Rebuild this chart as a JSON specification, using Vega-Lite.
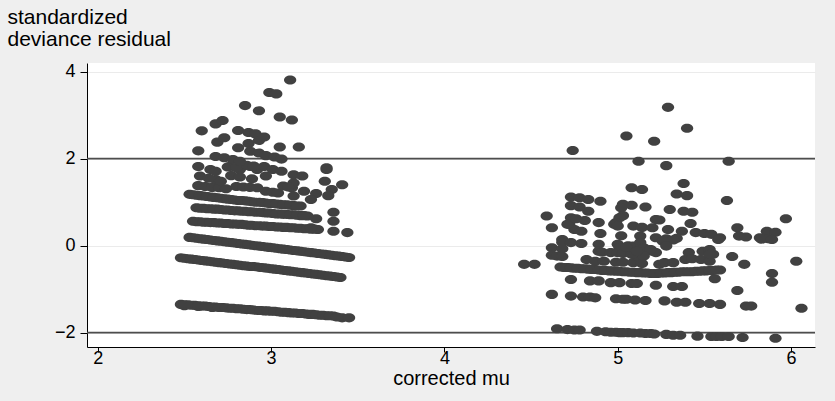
{
  "$schema": "https://vega.github.io/schema/vega-lite/v6.json",
  "width": 728,
  "height": 284,
  "autosize": {"type": "none"},
  "padding": {"left": 87, "top": 63, "right": 20, "bottom": 54},
  "background": "#EFEFEF",
  "config": {"view": {"fill": "white", "stroke": null}, "font": "Liberation Sans"},
  "datasets": {
    "refs": [{"y": 2}, {"y": -2}],
    "pts": [
      {"x":2.48,"y":-1.35},{"x":2.52,"y":-1.36},{"x":2.56,"y":-1.37},{"x":2.60,"y":-1.39},{"x":2.64,"y":-1.40},{"x":2.68,"y":-1.41},{"x":2.72,"y":-1.42},{"x":2.76,"y":-1.44},{"x":2.80,"y":-1.45},{"x":2.84,"y":-1.46},{"x":2.88,"y":-1.47},{"x":2.92,"y":-1.49},{"x":2.96,"y":-1.50},{"x":3.00,"y":-1.51},{"x":3.04,"y":-1.52},{"x":3.08,"y":-1.53},{"x":3.12,"y":-1.55},{"x":3.16,"y":-1.56},{"x":3.20,"y":-1.57},{"x":3.24,"y":-1.58},{"x":3.28,"y":-1.60},{"x":3.32,"y":-1.61},{"x":3.36,"y":-1.62},{"x":3.41,"y":-1.66},{"x":3.45,"y":-1.66},{"x":2.50,"y":-1.38},{"x":2.58,"y":-1.40},{"x":2.66,"y":-1.42},
      {"x":2.50,"y":-1.36},{"x":2.54,"y":-1.37},{"x":2.58,"y":-1.38},{"x":2.62,"y":-1.39},{"x":2.66,"y":-1.41},{"x":2.70,"y":-1.42},{"x":2.74,"y":-1.43},{"x":2.78,"y":-1.44},{"x":2.82,"y":-1.45},{"x":2.86,"y":-1.47},{"x":2.90,"y":-1.48},{"x":2.94,"y":-1.49},{"x":2.98,"y":-1.50},{"x":3.02,"y":-1.51},{"x":3.06,"y":-1.53},{"x":3.10,"y":-1.54},{"x":3.14,"y":-1.55},{"x":3.18,"y":-1.56},{"x":3.22,"y":-1.58},{"x":3.26,"y":-1.59},{"x":3.30,"y":-1.60},{"x":3.34,"y":-1.61},{"x":3.38,"y":-1.64},
      {"x":2.48,"y":-0.28},{"x":2.52,"y":-0.30},{"x":2.56,"y":-0.32},{"x":2.60,"y":-0.34},{"x":2.64,"y":-0.36},{"x":2.68,"y":-0.38},{"x":2.72,"y":-0.40},{"x":2.76,"y":-0.42},{"x":2.80,"y":-0.44},{"x":2.84,"y":-0.46},{"x":2.88,"y":-0.48},{"x":2.92,"y":-0.49},{"x":2.96,"y":-0.51},{"x":3.00,"y":-0.53},{"x":3.04,"y":-0.55},{"x":3.08,"y":-0.57},{"x":3.12,"y":-0.59},{"x":3.16,"y":-0.61},{"x":3.20,"y":-0.63},{"x":3.24,"y":-0.65},{"x":3.28,"y":-0.67},{"x":3.32,"y":-0.69},{"x":3.36,"y":-0.71},{"x":3.40,"y":-0.73},
      {"x":2.50,"y":-0.29},{"x":2.54,"y":-0.31},{"x":2.58,"y":-0.33},{"x":2.62,"y":-0.35},{"x":2.66,"y":-0.37},{"x":2.70,"y":-0.39},{"x":2.74,"y":-0.41},{"x":2.78,"y":-0.43},{"x":2.82,"y":-0.45},{"x":2.86,"y":-0.47},{"x":2.90,"y":-0.48},{"x":2.94,"y":-0.50},{"x":2.98,"y":-0.52},{"x":3.02,"y":-0.54},{"x":3.06,"y":-0.56},{"x":3.10,"y":-0.58},{"x":3.14,"y":-0.60},{"x":3.18,"y":-0.62},{"x":3.22,"y":-0.64},{"x":3.26,"y":-0.66},{"x":3.30,"y":-0.68},{"x":3.34,"y":-0.70},{"x":3.38,"y":-0.72},
      {"x":2.53,"y":0.19},{"x":2.57,"y":0.17},{"x":2.61,"y":0.15},{"x":2.65,"y":0.13},{"x":2.69,"y":0.11},{"x":2.73,"y":0.09},{"x":2.77,"y":0.07},{"x":2.81,"y":0.05},{"x":2.85,"y":0.03},{"x":2.89,"y":0.01},{"x":2.93,"y":-0.01},{"x":2.97,"y":-0.03},{"x":3.01,"y":-0.05},{"x":3.05,"y":-0.07},{"x":3.09,"y":-0.09},{"x":3.13,"y":-0.11},{"x":3.17,"y":-0.13},{"x":3.21,"y":-0.15},{"x":3.25,"y":-0.17},{"x":3.29,"y":-0.19},{"x":3.33,"y":-0.21},{"x":3.37,"y":-0.23},{"x":3.41,"y":-0.25},{"x":3.45,"y":-0.27},
      {"x":2.55,"y":0.18},{"x":2.59,"y":0.16},{"x":2.63,"y":0.14},{"x":2.67,"y":0.12},{"x":2.71,"y":0.10},{"x":2.75,"y":0.08},{"x":2.79,"y":0.06},{"x":2.83,"y":0.04},{"x":2.87,"y":0.02},{"x":2.91,"y":0.00},{"x":2.95,"y":-0.02},{"x":2.99,"y":-0.04},{"x":3.03,"y":-0.06},{"x":3.07,"y":-0.08},{"x":3.11,"y":-0.10},{"x":3.15,"y":-0.12},{"x":3.19,"y":-0.14},{"x":3.23,"y":-0.16},{"x":3.27,"y":-0.18},{"x":3.31,"y":-0.20},{"x":3.35,"y":-0.22},{"x":3.39,"y":-0.24},{"x":3.43,"y":-0.26},
      {"x":2.55,"y":0.56},{"x":2.59,"y":0.55},{"x":2.63,"y":0.54},{"x":2.67,"y":0.53},{"x":2.71,"y":0.52},{"x":2.75,"y":0.51},{"x":2.79,"y":0.50},{"x":2.83,"y":0.49},{"x":2.87,"y":0.47},{"x":2.91,"y":0.46},{"x":2.95,"y":0.45},{"x":2.99,"y":0.44},{"x":3.03,"y":0.43},{"x":3.07,"y":0.42},{"x":3.11,"y":0.41},{"x":3.15,"y":0.40},{"x":3.19,"y":0.39},{"x":3.23,"y":0.38},{"x":3.27,"y":0.37},
      {"x":2.57,"y":0.55},{"x":2.61,"y":0.54},{"x":2.65,"y":0.53},{"x":2.69,"y":0.52},{"x":2.73,"y":0.51},{"x":2.77,"y":0.50},{"x":2.81,"y":0.49},{"x":2.85,"y":0.48},{"x":2.89,"y":0.47},{"x":2.93,"y":0.46},{"x":2.97,"y":0.45},{"x":3.01,"y":0.44},{"x":3.05,"y":0.43},{"x":3.09,"y":0.42},{"x":3.13,"y":0.41},{"x":3.17,"y":0.40},{"x":3.21,"y":0.39},{"x":3.25,"y":0.38},
      {"x":3.36,"y":0.56},{"x":3.36,"y":0.33},{"x":3.44,"y":0.30},{"x":3.26,"y":0.62},{"x":3.36,"y":0.77},{"x":3.23,"y":0.41},
      {"x":2.57,"y":0.87},{"x":2.61,"y":0.86},{"x":2.65,"y":0.85},{"x":2.69,"y":0.84},{"x":2.73,"y":0.82},{"x":2.77,"y":0.81},{"x":2.81,"y":0.80},{"x":2.85,"y":0.79},{"x":2.89,"y":0.78},{"x":2.93,"y":0.77},{"x":2.97,"y":0.75},{"x":3.01,"y":0.74},{"x":3.05,"y":0.73},{"x":3.09,"y":0.72},{"x":3.13,"y":0.71},{"x":3.17,"y":0.69},{"x":3.21,"y":0.68},
      {"x":2.59,"y":0.86},{"x":2.63,"y":0.85},{"x":2.67,"y":0.84},{"x":2.71,"y":0.83},{"x":2.75,"y":0.82},{"x":2.79,"y":0.80},{"x":2.83,"y":0.79},{"x":2.87,"y":0.78},{"x":2.91,"y":0.77},{"x":2.95,"y":0.76},{"x":2.99,"y":0.75},{"x":3.03,"y":0.73},{"x":3.07,"y":0.72},{"x":3.11,"y":0.71},{"x":3.15,"y":0.70},{"x":3.19,"y":0.69},
      {"x":2.53,"y":1.18},{"x":2.57,"y":1.16},{"x":2.61,"y":1.14},{"x":2.65,"y":1.12},{"x":2.69,"y":1.10},{"x":2.73,"y":1.08},{"x":2.77,"y":1.06},{"x":2.81,"y":1.04},{"x":2.85,"y":1.03},{"x":2.89,"y":1.01},{"x":2.93,"y":1.00},{"x":2.97,"y":0.98},{"x":3.01,"y":0.97},{"x":3.05,"y":0.95},{"x":3.09,"y":0.94},{"x":3.13,"y":0.92},{"x":3.17,"y":0.91},
      {"x":2.55,"y":1.17},{"x":2.59,"y":1.15},{"x":2.63,"y":1.13},{"x":2.67,"y":1.11},{"x":2.71,"y":1.09},{"x":2.75,"y":1.07},{"x":2.79,"y":1.05},{"x":2.83,"y":1.04},{"x":2.87,"y":1.02},{"x":2.91,"y":1.00},{"x":2.95,"y":0.99},{"x":2.99,"y":0.97},{"x":3.03,"y":0.96},{"x":3.07,"y":0.94},{"x":3.11,"y":0.93},{"x":3.15,"y":0.91},
      {"x":2.58,"y":1.38},{"x":2.62,"y":1.36},{"x":2.66,"y":1.34},{"x":2.70,"y":1.33},{"x":2.74,"y":1.31},{"x":2.80,"y":1.36},{"x":2.84,"y":1.35},{"x":2.88,"y":1.34},{"x":2.92,"y":1.33},{"x":2.97,"y":1.25},{"x":3.01,"y":1.23},{"x":3.04,"y":1.21},{"x":3.07,"y":1.37},{"x":3.12,"y":1.33},
      {"x":3.13,"y":1.44},{"x":3.10,"y":1.35},{"x":3.31,"y":1.48},{"x":3.41,"y":1.40},{"x":3.35,"y":1.29},{"x":3.19,"y":1.25},{"x":3.26,"y":1.20},{"x":3.33,"y":1.15},{"x":3.23,"y":1.06},{"x":3.13,"y":1.14},{"x":3.13,"y":1.63},{"x":3.18,"y":1.60},{"x":3.32,"y":1.75},
      {"x":2.59,"y":1.60},{"x":2.68,"y":1.52},{"x":2.71,"y":1.48},{"x":2.77,"y":1.61},{"x":2.82,"y":1.58},{"x":2.89,"y":1.54},{"x":2.97,"y":1.60},{"x":2.64,"y":1.55},
      {"x":2.58,"y":1.82},{"x":2.65,"y":1.75},{"x":2.68,"y":1.71},{"x":2.76,"y":1.82},{"x":2.82,"y":1.75},{"x":2.88,"y":1.82},{"x":2.92,"y":1.75},{"x":2.96,"y":1.82},{"x":3.01,"y":1.75},{"x":3.06,"y":1.71},{"x":2.75,"y":1.81},{"x":2.80,"y":1.79},{"x":2.86,"y":1.85},{"x":2.90,"y":1.83},
      {"x":3.11,"y":3.81},{"x":2.99,"y":3.52},{"x":3.03,"y":3.49},{"x":2.85,"y":3.22},{"x":2.93,"y":3.10},{"x":3.05,"y":2.96},{"x":3.12,"y":2.89},{"x":2.68,"y":2.80},{"x":2.72,"y":2.88},{"x":2.60,"y":2.64},{"x":2.81,"y":2.65},{"x":2.87,"y":2.60},{"x":2.91,"y":2.57},{"x":2.69,"y":2.38},{"x":2.73,"y":2.48},{"x":2.87,"y":2.35},{"x":2.93,"y":2.42},{"x":2.96,"y":2.50},{"x":2.81,"y":2.25},{"x":2.88,"y":2.17},{"x":3.05,"y":2.27},{"x":3.16,"y":2.27},{"x":2.58,"y":2.18},{"x":2.68,"y":2.05},{"x":2.73,"y":2.02},{"x":2.78,"y":1.98},{"x":2.82,"y":1.94},{"x":2.93,"y":2.13},{"x":2.97,"y":2.07},{"x":3.02,"y":2.04},{"x":3.06,"y":1.99},{"x":3.32,"y":1.79},
      {"x":5.29,"y":3.18},{"x":5.40,"y":2.70},{"x":5.05,"y":2.52},{"x":5.21,"y":2.40},{"x":4.74,"y":2.19},{"x":5.12,"y":1.94},{"x":5.28,"y":1.84},{"x":5.64,"y":1.94},{"x":5.38,"y":1.43},{"x":5.08,"y":1.33},{"x":5.14,"y":1.29},{"x":5.34,"y":1.19},{"x":5.40,"y":1.15},{"x":5.63,"y":1.04},
      {"x":4.73,"y":1.12},{"x":4.78,"y":1.10},{"x":4.83,"y":1.06},{"x":4.90,"y":1.02},{"x":5.03,"y":0.95},{"x":5.08,"y":0.93},{"x":4.73,"y":0.92},{"x":4.78,"y":0.89},{"x":4.83,"y":0.79},{"x":5.16,"y":0.89},{"x":5.30,"y":0.83},{"x":5.38,"y":0.79},{"x":5.43,"y":0.77},{"x":4.59,"y":0.68},{"x":5.02,"y":0.87},{"x":5.03,"y":0.69},{"x":5.01,"y":0.64},{"x":4.99,"y":0.53},{"x":4.73,"y":0.64},{"x":4.72,"y":0.49},{"x":4.75,"y":0.37},{"x":4.79,"y":0.33},{"x":4.81,"y":0.58},{"x":4.89,"y":0.53},{"x":5.24,"y":0.59},{"x":5.42,"y":0.51},{"x":4.62,"y":0.41},{"x":5.09,"y":0.45},{"x":5.14,"y":0.42},{"x":5.20,"y":0.41},{"x":5.29,"y":0.37},{"x":5.37,"y":0.33},{"x":5.45,"y":0.30},{"x":5.50,"y":0.28},{"x":5.54,"y":0.26},{"x":5.69,"y":0.41},{"x":5.86,"y":0.33},{"x":5.91,"y":0.31},{"x":5.97,"y":0.62},{"x":4.90,"y":0.28},{"x":5.02,"y":0.23},{"x":5.13,"y":0.22},{"x":5.22,"y":0.18},{"x":5.28,"y":0.16},{"x":5.34,"y":0.17},{"x":5.59,"y":0.18},{"x":5.70,"y":0.22},{"x":5.74,"y":0.20},{"x":5.82,"y":0.18},{"x":5.87,"y":0.16},{"x":4.68,"y":0.14},{"x":5.58,"y":0.14},{"x":5.83,"y":0.15},{"x":5.89,"y":0.14},{"x":4.98,"y":0.49},{"x":5.22,"y":0.60},{"x":4.71,"y":0.49},{"x":5.00,"y":0.45},{"x":4.76,"y":0.62},
      {"x":4.68,"y":0.08},{"x":4.73,"y":0.07},{"x":4.79,"y":0.05},{"x":4.89,"y":0.03},{"x":5.00,"y":0.03},{"x":5.06,"y":0.00},{"x":5.09,"y":-0.01},{"x":5.13,"y":0.07},{"x":5.26,"y":0.10},{"x":5.32,"y":0.13},{"x":4.62,"y":-0.05},{"x":4.68,"y":-0.07},{"x":4.89,"y":-0.13},{"x":4.91,"y":-0.15},{"x":4.96,"y":-0.16},{"x":5.01,"y":-0.05},{"x":5.05,"y":-0.07},{"x":5.09,"y":-0.16},{"x":5.14,"y":-0.24},{"x":5.20,"y":-0.13},{"x":5.22,"y":-0.16},{"x":5.28,"y":-0.01},{"x":5.13,"y":-0.07},{"x":5.15,"y":-0.05},{"x":5.19,"y":-0.09},{"x":5.49,"y":-0.13},{"x":5.53,"y":-0.09},{"x":5.55,"y":-0.20},{"x":5.41,"y":-0.16},{"x":5.66,"y":-0.25},{"x":5.73,"y":-0.43},{"x":6.03,"y":-0.36},{"x":4.62,"y":-0.22},{"x":4.65,"y":-0.24},{"x":4.68,"y":-0.25},{"x":4.82,"y":-0.32},{"x":4.87,"y":-0.36},{"x":4.92,"y":-0.36},{"x":4.99,"y":-0.38},{"x":5.03,"y":-0.38},{"x":5.09,"y":-0.39},{"x":5.11,"y":-0.24},{"x":5.15,"y":-0.24},{"x":5.14,"y":-0.41},{"x":5.24,"y":-0.43},{"x":5.27,"y":-0.39},{"x":5.32,"y":-0.39},{"x":5.39,"y":-0.32},{"x":5.43,"y":-0.30},{"x":5.48,"y":-0.32},{"x":5.53,"y":-0.36},{"x":5.53,"y":-0.20},{"x":4.46,"y":-0.43},{"x":4.52,"y":-0.43},{"x":5.00,"y":-0.16},{"x":5.03,"y":-0.18},{"x":5.08,"y":-0.20},{"x":5.05,"y":-0.03},{"x":5.11,"y":-0.13},
      {"x":4.67,"y":-0.49},{"x":4.71,"y":-0.50},{"x":4.75,"y":-0.52},{"x":4.79,"y":-0.53},{"x":4.83,"y":-0.54},{"x":4.87,"y":-0.55},{"x":4.91,"y":-0.57},{"x":4.95,"y":-0.58},{"x":4.99,"y":-0.59},{"x":5.03,"y":-0.60},{"x":5.07,"y":-0.61},{"x":5.11,"y":-0.62},{"x":5.15,"y":-0.63},{"x":5.19,"y":-0.64},{"x":5.23,"y":-0.64},{"x":5.27,"y":-0.63},{"x":5.31,"y":-0.62},{"x":5.35,"y":-0.61},{"x":5.39,"y":-0.60},{"x":5.43,"y":-0.60},{"x":5.47,"y":-0.59},{"x":5.51,"y":-0.58},{"x":5.55,"y":-0.57},{"x":5.59,"y":-0.56},
      {"x":4.69,"y":-0.50},{"x":4.73,"y":-0.51},{"x":4.77,"y":-0.52},{"x":4.81,"y":-0.53},{"x":4.85,"y":-0.55},{"x":4.89,"y":-0.56},{"x":4.93,"y":-0.57},{"x":4.97,"y":-0.58},{"x":5.01,"y":-0.59},{"x":5.05,"y":-0.60},{"x":5.09,"y":-0.61},{"x":5.13,"y":-0.62},{"x":5.17,"y":-0.63},{"x":5.21,"y":-0.64},{"x":5.25,"y":-0.63},{"x":5.29,"y":-0.62},{"x":5.33,"y":-0.61},{"x":5.37,"y":-0.60},{"x":5.41,"y":-0.60},{"x":5.45,"y":-0.59},{"x":5.49,"y":-0.58},{"x":5.53,"y":-0.57},{"x":5.57,"y":-0.56},
      {"x":4.73,"y":-0.78},{"x":4.84,"y":-0.81},{"x":4.89,"y":-0.81},{"x":4.96,"y":-0.85},{"x":5.01,"y":-0.85},{"x":5.08,"y":-0.87},{"x":5.22,"y":-0.91},{"x":5.32,"y":-0.94},{"x":5.37,"y":-0.94},{"x":5.89,"y":-0.64},{"x":5.89,"y":-0.84},{"x":5.69,"y":-1.03},{"x":5.56,"y":-0.76},{"x":5.11,"y":-0.87},
      {"x":4.62,"y":-1.12},{"x":4.73,"y":-1.16},{"x":4.80,"y":-1.18},{"x":4.84,"y":-1.18},{"x":4.87,"y":-1.20},{"x":4.99,"y":-1.22},{"x":5.03,"y":-1.23},{"x":5.05,"y":-1.23},{"x":5.10,"y":-1.25},{"x":5.16,"y":-1.26},{"x":5.27,"y":-1.27},{"x":5.34,"y":-1.30},{"x":5.39,"y":-1.30},{"x":5.47,"y":-1.33},{"x":5.53,"y":-1.33},{"x":5.59,"y":-1.35},{"x":5.74,"y":-1.39},{"x":5.77,"y":-1.39},{"x":6.06,"y":-1.44},
      {"x":4.65,"y":-1.91},{"x":4.71,"y":-1.93},{"x":4.75,"y":-1.94},{"x":4.78,"y":-1.94},{"x":4.88,"y":-1.97},{"x":4.93,"y":-1.98},{"x":4.96,"y":-1.99},{"x":4.99,"y":-1.99},{"x":5.01,"y":-2.00},{"x":5.03,"y":-2.00},{"x":5.06,"y":-2.00},{"x":5.09,"y":-2.01},{"x":5.13,"y":-2.01},{"x":5.16,"y":-2.02},{"x":5.19,"y":-2.02},{"x":5.21,"y":-2.03},{"x":5.28,"y":-2.04},{"x":5.32,"y":-2.06},{"x":5.36,"y":-2.06},{"x":5.46,"y":-2.08},{"x":5.54,"y":-2.09},{"x":5.57,"y":-2.09},{"x":5.60,"y":-2.09},{"x":5.64,"y":-2.09},{"x":5.72,"y":-2.11},{"x":5.91,"y":-2.13}
    ]
  },
  "layer": [
    {
      "data": {"name": "refs"},
      "mark": {"type": "rule", "color": "#4d4d4d", "strokeWidth": 1.8},
      "encoding": {
        "y": {"field": "y", "type": "quantitative", "scale": {"domain": [-2.33, 4.2], "nice": false, "zero": false},
          "axis": {"values": [-2, 0, 2, 4], "format": "d", "title": ["standardized", "deviance residual"], "titleAngle": 0, "titleAlign": "left", "titleBaseline": "top", "titleX": -80, "titleY": -57, "titleFontSize": 21, "titleFontWeight": "normal", "titleColor": "#000000", "titleLineHeight": 22, "labelFontSize": 18, "labelColor": "#000000", "tickSize": 7, "tickColor": "#000000", "domainColor": "#000000", "labelPadding": 5, "grid": true, "gridColor": "#EBEBEB"}}
      }
    },
    {
      "data": {"name": "pts"},
      "mark": {"type": "point", "filled": true, "shape": "M-1,0A1,0.74,0,1,1,1,0A1,0.74,0,1,1,-1,0Z", "size": 150, "color": "#414141", "opacity": 1},
      "encoding": {
        "x": {"field": "x", "type": "quantitative", "scale": {"domain": [1.938, 6.138], "nice": false, "zero": false},
          "axis": {"values": [2, 3, 4, 5, 6], "format": "d", "title": "corrected mu", "titleFontSize": 20, "titleFontWeight": "normal", "titleColor": "#000000", "titlePadding": 1, "labelFontSize": 18, "labelColor": "#000000", "tickSize": 5, "tickColor": "#000000", "domainColor": "#000000", "labelPadding": -3, "grid": false}},
        "y": {"field": "y", "type": "quantitative", "scale": {"domain": [-2.33, 4.2], "nice": false, "zero": false},
          "axis": {"values": [-2, 0, 2, 4], "format": "d", "title": ["standardized", "deviance residual"], "titleAngle": 0, "titleAlign": "left", "titleBaseline": "top", "titleX": -80, "titleY": -57, "titleFontSize": 21, "titleFontWeight": "normal", "titleColor": "#000000", "titleLineHeight": 22, "labelFontSize": 18, "labelColor": "#000000", "tickSize": 7, "tickColor": "#000000", "domainColor": "#000000", "labelPadding": 5, "grid": true, "gridColor": "#EBEBEB"}}
      }
    }
  ]
}
